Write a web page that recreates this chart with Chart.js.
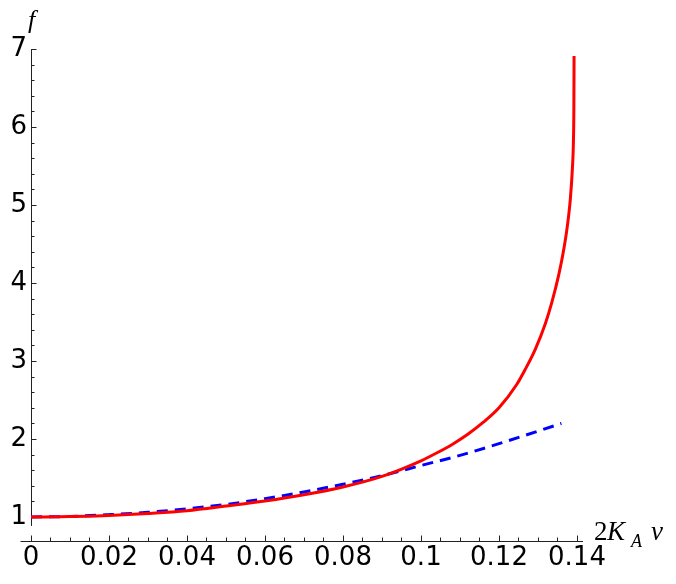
<!DOCTYPE html>
<html>
<head>
<meta charset="utf-8">
<script src="https://cdn.jsdelivr.net/npm/chart.js@4.4.0/dist/chart.umd.min.js"></script>
<style>
html,body{margin:0;padding:0;background:#fff;}
</style>
</head>
<body>
<canvas id="myChart" width="676" height="584"></canvas>
<script>
// valores
const xRed = [0, 0.01, 0.02, 0.03, 0.04, 0.05, 0.06, 0.07, 0.08, 0.09, 0.1, 0.104, 0.108, 0.112, 0.116, 0.12, 0.1245, 0.1267, 0.1293, 0.1319, 0.1336, 0.1353, 0.1365, 0.1375, 0.1383, 0.1388, 0.1391, 0.1392, 0.13925];
const fRed = [1, 1.005, 1.02, 1.045, 1.08, 1.14, 1.205, 1.285, 1.385, 1.52, 1.72, 1.82, 1.93, 2.06, 2.215, 2.4, 2.695, 2.89, 3.15, 3.48, 3.76, 4.1, 4.4, 4.72, 5.08, 5.45, 5.85, 6.25, 6.91];
const xBlue = [0, 0.01, 0.02, 0.03, 0.04, 0.05, 0.06, 0.07, 0.08, 0.09, 0.1, 0.11, 0.12, 0.13, 0.136];
const fBlue = [1, 1.007, 1.03, 1.06, 1.105, 1.16, 1.235, 1.32, 1.42, 1.53, 1.66, 1.79, 1.94, 2.1, 2.2];
const xTicks = [0, 0.02, 0.04, 0.06, 0.08, 0.1, 0.12, 0.14];
const yTicks = [1, 2, 3, 4, 5, 6, 7];

const xMax = 0.14154;
const yMin = 0.692;
const yMax = 7;

const puntos = (xs, ys) => xs.map((x, i) => ({x: x, y: ys[i]}));

const ejes = {
    id: 'ejes',
    beforeDatasetsDraw(chart) {
        const ctx = chart.ctx;
        const xs = chart.scales.x, ys = chart.scales.y;
        const x0 = Math.round(xs.getPixelForValue(0)) + 0.5;
        const yb = Math.round(chart.chartArea.bottom) + 0.5;
        ctx.save();
        ctx.strokeStyle = '#222';
        ctx.lineWidth = 1;
        ctx.beginPath();
        // eje x
        ctx.moveTo(x0 - 11, yb);
        ctx.lineTo(xs.getPixelForValue(xMax), yb);
        for (let k = 0; k <= 28; k++) {
            const px = Math.round(xs.getPixelForValue(k * 0.005)) + 0.5;
            const l = k % 4 == 0 ? 6 : 4;
            ctx.moveTo(px, yb);
            ctx.lineTo(px, yb - l);
        }
        // eje y
        ctx.moveTo(x0, ys.getPixelForValue(0.885));
        ctx.lineTo(x0, ys.getPixelForValue(yMax));
        for (let k = 0; k <= 30; k++) {
            const py = Math.round(ys.getPixelForValue(1 + k * 0.2)) + 0.5;
            const l = k % 5 == 0 ? 5 : 3;
            ctx.moveTo(x0, py);
            ctx.lineTo(x0 + l, py);
        }
        ctx.stroke();
        ctx.restore();
    },
    afterDraw(chart) {
        const ctx = chart.ctx;
        ctx.save();
        ctx.fillStyle = '#000';
        ctx.textBaseline = 'alphabetic';
        ctx.font = 'italic 26px "Liberation Serif"';
        ctx.fillText('f', 28, 28);
        ctx.font = '27px "Liberation Serif"';
        ctx.fillText('2', 594, 540);
        ctx.font = 'italic 27px "Liberation Serif"';
        ctx.fillText('K', 607, 540);
        ctx.font = 'italic 18px "Liberation Serif"';
        ctx.fillText('A', 631, 547);
        ctx.font = 'italic 27px "Liberation Serif"';
        ctx.fillText('v', 651, 540);
        ctx.restore();
    }
};

window.addEventListener('DOMContentLoaded', () => {
    const info = {
        datasets: [{
            label: 'f',
            data: puntos(xRed, fRed),
            borderColor: 'rgb(255, 0, 0)',
            borderWidth: 3,
            showLine: true,
            pointRadius: 0,
            cubicInterpolationMode: 'monotone'
        }, {
            label: 'aprox',
            data: puntos(xBlue, fBlue),
            borderColor: 'rgb(0, 0, 255)',
            borderWidth: 3,
            borderDash: [11, 7],
            showLine: true,
            pointRadius: 0,
            cubicInterpolationMode: 'monotone'
        }]
    };

    const config = {
        type: 'scatter',
        data: info,
        options: {
            responsive: false,
            animation: false,
            devicePixelRatio: 1,
            layout: {padding: {top: 49, right: 93, left: 0, bottom: 0}},
            plugins: {legend: {display: false}, tooltip: {enabled: false}},
            scales: {
                x: {
                    type: 'linear',
                    min: 0,
                    max: xMax,
                    grid: {display: false, drawTicks: false},
                    border: {display: false},
                    afterBuildTicks: s => { s.ticks = xTicks.map(v => ({value: v})); },
                    afterFit: s => { s.height = 43; },
                    ticks: {
                        autoSkip: false,
                        maxRotation: 0,
                        padding: 2,
                        color: '#000',
                        font: {family: 'DejaVu Sans', size: 26},
                        callback: v => String(+v.toFixed(2))
                    }
                },
                y: {
                    type: 'linear',
                    min: yMin,
                    max: yMax,
                    grid: {display: false, drawTicks: false},
                    border: {display: false},
                    afterBuildTicks: s => { s.ticks = yTicks.map(v => ({value: v})); },
                    afterFit: s => { s.width = 31; },
                    ticks: {
                        padding: 4,
                        color: '#000',
                        font: {family: 'DejaVu Sans', size: 26},
                        callback: v => String(v)
                    }
                }
            }
        },
        plugins: [ejes]
    };

    myChart = new Chart(document.getElementById('myChart'), config);
});
</script>
</body>
</html>
